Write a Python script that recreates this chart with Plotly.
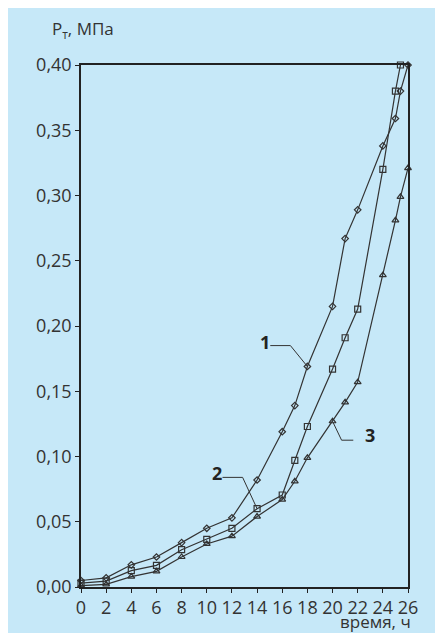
import plotly.graph_objects as go

# Time, h
t1 = [0, 2, 4, 6, 8, 10, 12, 14, 16, 17, 18, 20, 21, 22, 24, 25, 25.4, 26]
p1 = [0.005, 0.007, 0.017, 0.023, 0.034, 0.045, 0.053, 0.082, 0.119, 0.139, 0.169,
      0.215, 0.267, 0.289, 0.338, 0.359, 0.380, 0.400]

t2 = [0, 2, 4, 6, 8, 10, 12, 14, 16, 17, 18, 20, 21, 22, 24, 25, 25.4]
p2 = [0.003, 0.0045, 0.0125, 0.0166, 0.0286, 0.0365, 0.045, 0.060, 0.0705, 0.097,
      0.123, 0.167, 0.191, 0.213, 0.320, 0.380, 0.400]

t3 = [0, 2, 4, 6, 8, 10, 12, 14, 16, 17, 18, 20, 21, 22, 24, 25, 25.4, 26]
p3 = [0.001, 0.002, 0.008, 0.012, 0.023, 0.033, 0.039, 0.054, 0.067, 0.081, 0.099,
      0.127, 0.1415, 0.157, 0.239, 0.281, 0.299, 0.321]

x_ticks = list(range(0, 27, 2))
y_ticks = [0.00, 0.05, 0.10, 0.15, 0.20, 0.25, 0.30, 0.35, 0.40]

series_labels = ["1", "2", "3"]
# label text position (x, y) and index of point the leader goes to
label_pos = [(14.6, 0.188), (10.8, 0.087), (23.0, 0.1165)]
label_target = [10, 7, 11]

BG = "#c6e8f8"
LINE = "#333333"
FONT = "Open Sans"

fig = go.Figure()
styles = [("diamond-open", 5), ("square-open", 6), ("triangle-up-open", 6)]
for (tx, py), (sym, sz) in zip([(t1, p1), (t2, p2), (t3, p3)], styles):
    fig.add_trace(go.Scatter(
        x=tx, y=py, mode="lines+markers",
        line=dict(color=LINE, width=1.2),
        marker=dict(symbol=sym, size=sz, color=LINE, line=dict(width=1.2, color=LINE)),
        cliponaxis=False, showlegend=False, hoverinfo="skip"))

# leader lines and labels
series = [(t1, p1), (t2, p2), (t3, p3)]
for i, (lab, (lx, ly), ti) in enumerate(zip(series_labels, label_pos, label_target)):
    tx, py = series[i][0][ti], series[i][1][ti]
    if i < 2:
        x0 = lx + 0.45
        xb = x0 + 1.6
        fig.add_trace(go.Scatter(x=[x0, xb, tx], y=[ly - 0.003, ly - 0.003, py],
                                 mode="lines", line=dict(color=LINE, width=1),
                                 showlegend=False, hoverinfo="skip"))
    else:
        xs = lx - 1.35
        xb = xs - 0.93
        fig.add_trace(go.Scatter(x=[tx, xb, xs], y=[py, ly - 0.004, ly - 0.004],
                                 mode="lines", line=dict(color=LINE, width=1),
                                 showlegend=False, hoverinfo="skip"))
    fig.add_annotation(x=lx, y=ly, text="<b>%s</b>" % lab, showarrow=False,
                       xanchor="center", yanchor="middle",
                       font=dict(family=FONT, size=18, color="#222"))

# axis titles
fig.add_annotation(xref="paper", yref="paper", x=-0.095, y=1.04, text="P<sub>т</sub>, МПа",
                   showarrow=False, xanchor="left", yanchor="bottom",
                   font=dict(family=FONT, size=17, color="#333"))
fig.add_annotation(xref="paper", yref="paper", x=1.015, y=-0.066, text="время, ч",
                   showarrow=False, xanchor="right", yanchor="middle",
                   font=dict(family=FONT, size=17, color="#333"))

axis_common = dict(showgrid=False, zeroline=False, showline=True, linecolor="#222",
                   linewidth=1.5, mirror=True, ticks="outside", ticklen=4,
                   tickwidth=1.2, tickcolor="#222",
                   tickfont=dict(family=FONT, size=18, color="#333"))
fig.update_xaxes(range=[0, 26], tickvals=x_ticks, ticktext=[str(v) for v in x_ticks],
                 **axis_common)
fig.update_yaxes(range=[0, 0.40], tickvals=y_ticks,
                 ticktext=[("%.2f" % v).replace(".", ",") for v in y_ticks],
                 **axis_common)

fig.update_layout(width=435, height=625, margin=dict(l=73, r=35, t=57, b=46),
                  paper_bgcolor=BG, plot_bgcolor=BG, showlegend=False)
fig.write_html("out.html")
